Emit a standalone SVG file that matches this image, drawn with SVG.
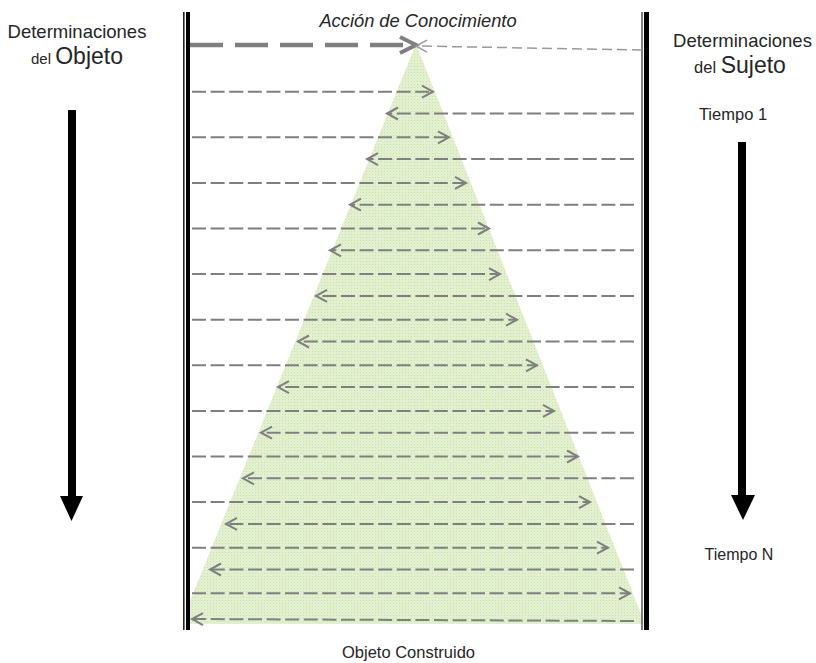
<svg xmlns="http://www.w3.org/2000/svg" width="816" height="663" viewBox="0 0 816 663">
<style>
text{font-family:"Liberation Sans",Arial,sans-serif;fill:#262626}
.d{stroke:#7f7f7f;stroke-width:2;stroke-dasharray:14 4.6;fill:none}
.r{marker-end:url(#ch)}
</style>
<defs>
<pattern id="dots" width="3" height="3" patternUnits="userSpaceOnUse">
<rect width="3" height="3" fill="#e2f0d0"/>
<rect width="1" height="1" fill="#c9e2a9"/>
</pattern>
<marker id="ch" markerUnits="userSpaceOnUse" markerWidth="16" markerHeight="16" refX="12" refY="7" orient="auto" overflow="visible">
<path d="M1,1 L12,7 L1,13" fill="none" stroke="#7f7f7f" stroke-width="2"/>
</marker>
<marker id="chL" markerUnits="userSpaceOnUse" markerWidth="16" markerHeight="16" refX="12" refY="7" orient="auto" overflow="visible">
<path d="M1,1 L12,7 L1,13" fill="none" stroke="#9a9a9a" stroke-width="1.5"/>
</marker>
<marker id="chT" markerUnits="userSpaceOnUse" markerWidth="20" markerHeight="20" refX="17" refY="9" orient="auto" overflow="visible">
<path d="M1,1 L17,9 L1,17" fill="none" stroke="#7f7f7f" stroke-width="4"/>
</marker>
</defs>
<rect width="816" height="663" fill="#fff"/>
<g id="triangle">
<polygon points="416,44 645,624 190,624 190,601" fill="url(#dots)"/>
</g>
<g id="bars">
<line x1="183.8" y1="12" x2="183.8" y2="630" stroke="#222" stroke-width="1.6"/>
<line x1="188" y1="12" x2="188" y2="630" stroke="#000" stroke-width="4"/>
<line x1="642" y1="12" x2="642" y2="630" stroke="#555" stroke-width="1.5"/>
<line x1="646.5" y1="12" x2="646.5" y2="630" stroke="#000" stroke-width="5"/>
</g>
<g id="connectors">
<line x1="190" y1="45" x2="416" y2="45" stroke="#7f7f7f" stroke-width="4.5" stroke-dasharray="33 12" marker-end="url(#chT)"/>
<line x1="642" y1="50" x2="416" y2="46" stroke="#9a9a9a" stroke-width="1.5" stroke-dasharray="10 5" marker-end="url(#chL)"/>
<line class="d r" x1="192" y1="91.7" x2="433" y2="91.7"/>
<line class="d r" x1="634" y1="113.5" x2="387" y2="113.5"/>
<line class="d r" x1="192" y1="137.3" x2="449" y2="137.3"/>
<line class="d r" x1="634" y1="159.1" x2="367" y2="159.1"/>
<line class="d r" x1="192" y1="182.9" x2="466" y2="182.9"/>
<line class="d r" x1="634" y1="204.7" x2="350" y2="204.7"/>
<line class="d r" x1="192" y1="228.5" x2="489" y2="228.5"/>
<line class="d r" x1="634" y1="250.3" x2="330" y2="250.3"/>
<line class="d r" x1="192" y1="274.1" x2="500" y2="274.1"/>
<line class="d r" x1="634" y1="295.9" x2="316" y2="295.9"/>
<line class="d r" x1="192" y1="319.7" x2="517" y2="319.7"/>
<line class="d r" x1="634" y1="341.5" x2="298" y2="341.5"/>
<line class="d r" x1="192" y1="365.3" x2="537" y2="365.3"/>
<line class="d r" x1="634" y1="387.1" x2="278" y2="387.1"/>
<line class="d r" x1="192" y1="410.9" x2="554" y2="410.9"/>
<line class="d r" x1="634" y1="432.7" x2="261" y2="432.7"/>
<line class="d r" x1="192" y1="456.5" x2="578" y2="456.5"/>
<line class="d r" x1="634" y1="478.3" x2="243" y2="478.3"/>
<line class="d r" x1="192" y1="502.1" x2="590" y2="502.1"/>
<line class="d r" x1="634" y1="523.9" x2="226" y2="523.9"/>
<line class="d r" x1="192" y1="547.7" x2="608" y2="547.7"/>
<line class="d r" x1="634" y1="569.5" x2="210" y2="569.5"/>
<line class="d r" x1="192" y1="593.3" x2="630" y2="593.3"/>
<line class="d r" x1="634" y1="621" x2="192" y2="619"/>
</g>
<g id="time-arrows">
<rect x="68" y="110" width="8" height="387" fill="#000"/>
<polygon points="60,496 83,496 71.5,521" fill="#000"/>
<rect x="738" y="142" width="8" height="354" fill="#000"/>
<polygon points="731,495 755,495 743,520" fill="#000"/>
</g>
<g id="labels">
<text x="418" y="27" font-size="18.3" font-style="italic" text-anchor="middle">Acción de Conocimiento</text>
<text x="77" y="38.3" font-size="18.5" text-anchor="middle">Determinaciones</text>
<text x="77" y="64.3" text-anchor="middle"><tspan font-size="15">del </tspan><tspan font-size="23">Objeto</tspan></text>
<text x="742.5" y="46.7" font-size="18.5" text-anchor="middle">Determinaciones</text>
<text x="740" y="72.7" text-anchor="middle"><tspan font-size="16.5">del </tspan><tspan font-size="23">Sujeto</tspan></text>
<text x="733" y="120" font-size="16.5" text-anchor="middle">Tiempo 1</text>
<text x="739" y="560" font-size="16" text-anchor="middle">Tiempo N</text>
<text x="408.5" y="658" font-size="16.5" text-anchor="middle">Objeto Construido</text>
</g>
</svg>
